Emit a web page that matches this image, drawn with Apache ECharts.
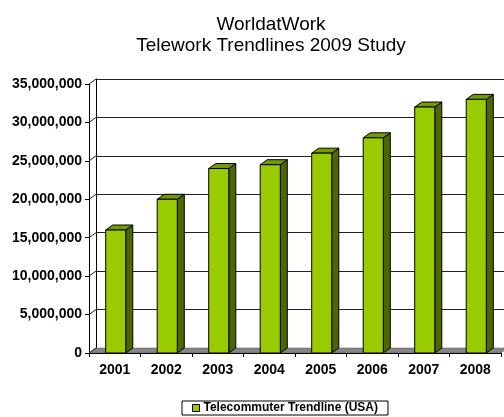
<!DOCTYPE html>
<html>
<head>
<meta charset="utf-8">
<script src="https://cdn.jsdelivr.net/npm/echarts@6/dist/echarts.min.js"></script>
<style>
html,body{margin:0;padding:0;background:#fff;}
#chart{width:504px;height:417px;}
</style>
</head>
<body>
<div id="chart"></div>
<script>
var titleLines = ['WorldatWork', 'Telework Trendlines 2009 Study'];
var seriesName = 'Telecommuter Trendline (USA)';
var categories = ['2001', '2002', '2003', '2004', '2005', '2006', '2007', '2008'];
var values = [16000000, 20000000, 24000000, 24500000, 26000000, 28000000, 32000000, 33000000];
var yTickValues = [0, 5000000, 10000000, 15000000, 20000000, 25000000, 30000000, 35000000];
var yMin = 0, yMax = 35000000, yInterval = 5000000;

var DX = 7, DY = 5;
var FONT = "'Liberation Sans', Arial, sans-serif";
var C_FRONT = '#99CC00', C_SIDE = '#4D6600', C_TOP = '#739A00', C_FLOOR = '#858585';

function fmt(v){ return String(v).replace(/\B(?=(\d{3})+(?!\d))/g, ','); }

var chart = echarts.init(document.getElementById('chart'), null, {renderer:'canvas'});

var option = {
  animation: false,
  backgroundColor: '#fff',
  title: {
    text: titleLines.join('\n'),
    left: 266, textAlign: 'center', top: 9,
    textStyle: {fontFamily: FONT, fontSize: 19, fontWeight: 'normal', color: '#000', lineHeight: 21}
  },
  legend: {
    data: [{name: seriesName, icon: 'rect', itemStyle: {color: C_FRONT, borderColor: '#000', borderWidth: 1}}],
    left: 182, top: 401,
    borderColor: '#000', borderWidth: 1,
    padding: [1, 10, 1, 10],
    itemWidth: 7, itemHeight: 7, itemGap: 4,
    textStyle: {fontFamily: FONT, fontSize: 12, fontWeight: 'bold', color: '#000', padding: [0,0,0,-1]}
  },
  grid: [
    {left: 89, top: 84, width: 412, height: 269, containLabel: false},
    {left: 89 + DX, top: 84 - DY, width: 412, height: 269, containLabel: false}
  ],
  xAxis: [
    {type: 'category', gridIndex: 0, data: categories, boundaryGap: true,
     axisLine: {show: true, lineStyle: {color: '#000', width: 1}},
     axisTick: {show: true, length: 4, lineStyle: {color: '#000'}},
     axisLabel: {fontFamily: FONT, fontSize: 14, fontWeight: 'bold', color: '#000', margin: 10},
     splitLine: {show: false}, z: 5},
    {type: 'category', gridIndex: 1, data: categories, show: false}
  ],
  yAxis: [
    {type: 'value', gridIndex: 0, min: yMin, max: yMax, interval: yInterval,
     axisLine: {show: true, lineStyle: {color: '#000', width: 1}},
     axisTick: {show: true, length: 4, lineStyle: {color: '#000'}},
     axisLabel: {fontFamily: FONT, fontSize: 14, fontWeight: 'bold', color: '#000', margin: 7, formatter: fmt},
     splitLine: {show: false}},
    {type: 'value', gridIndex: 1, min: yMin, max: yMax, interval: yInterval,
     axisLine: {show: true, lineStyle: {color: '#000', width: 1}},
     axisTick: {show: false}, axisLabel: {show: false},
     splitLine: {show: true, lineStyle: {color: '#222', width: 1}}}
  ],
  series: [
    {
      type: 'custom', name: 'frame', xAxisIndex: 0, yAxisIndex: 0, z: 1, silent: true,
      data: yTickValues.map(function(v){ return [0, v]; }),
      renderItem: function(params, api){
        var p = api.coord([0, api.value(1)]);
        var cs = params.coordSys;
        var x0 = cs.x;
        var children = [];
        if (api.value(1) === yMin) {
          children.push({type: 'polygon', shape: {points: [[x0, p[1]], [x0 + cs.width, p[1]], [x0 + cs.width + DX, p[1] - DY], [x0 + DX, p[1] - DY]]},
            style: {fill: C_FLOOR, stroke: '#555', lineWidth: 0.5}});
        }
        children.push({type: 'line', shape: {x1: x0, y1: p[1], x2: x0 + DX, y2: p[1] - DY}, style: {stroke: '#222', lineWidth: 1}});
        return {type: 'group', children: children};
      }
    },
    {
      type: 'custom', name: seriesName, xAxisIndex: 0, yAxisIndex: 0, z: 3,
      itemStyle: {color: C_FRONT},
      data: values.map(function(v, i){ return [i, v]; }),
      renderItem: function(params, api){
        var top = api.coord([api.value(0), api.value(1)]);
        var base = api.coord([api.value(0), 0]);
        var w = api.size([1, 0])[0] * 0.39;
        var cx = top[0] + 1;
        var l = cx - w / 2, r = cx + w / 2, t = top[1], b = base[1];
        return {type: 'group', children: [
          {type: 'polygon', shape: {points: [[r, t], [r + DX, t - DY], [r + DX, b - DY], [r, b]]},
            style: {fill: C_SIDE, stroke: '#000', lineWidth: 1}},
          {type: 'polygon', shape: {points: [[l, t], [l + DX, t - DY], [r + DX, t - DY], [r, t]]},
            style: {fill: C_TOP, stroke: '#000', lineWidth: 1}},
          {type: 'rect', shape: {x: l, y: t, width: w, height: b - t},
            style: {fill: C_FRONT, stroke: '#000', lineWidth: 1}}
        ]};
      }
    }
  ]
};
chart.setOption(option);
</script>
</body>
</html>
